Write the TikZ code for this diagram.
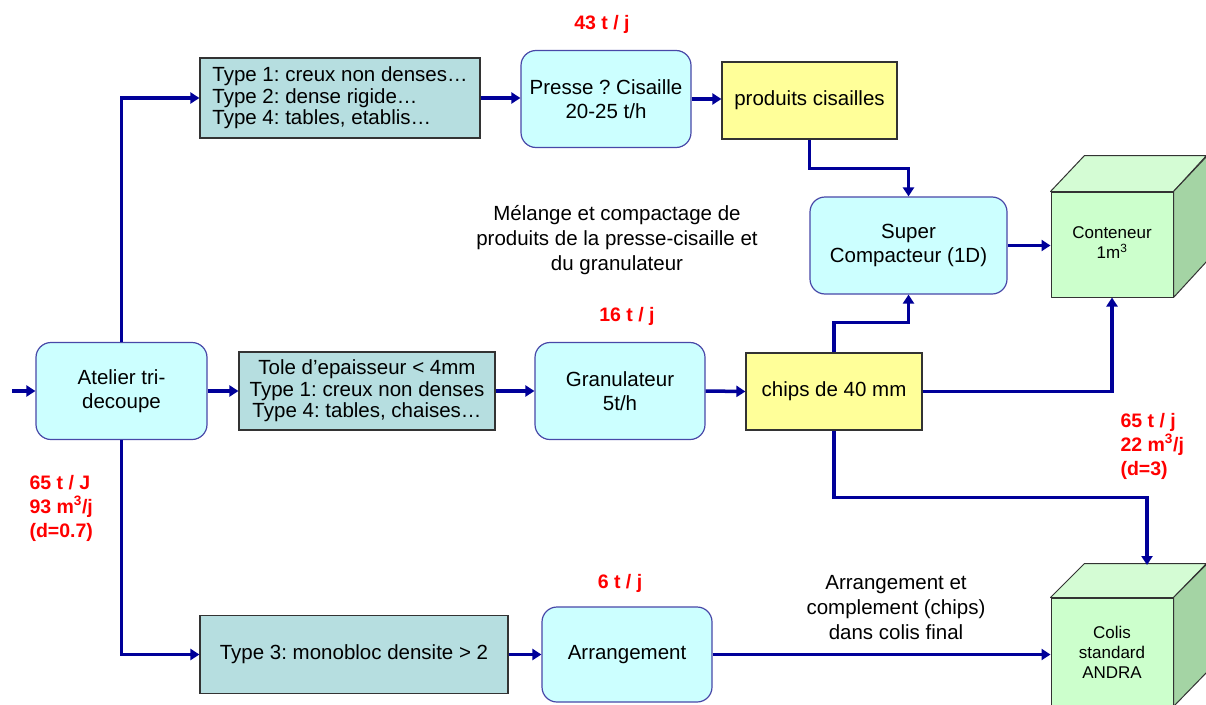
\documentclass[tikz,border=0pt]{standalone}
\usepackage{fontspec}
\setmainfont{Liberation Sans}
\usetikzlibrary{arrows.meta,calc}
\frenchspacing
\definecolor{procfill}{HTML}{CCFFFF}
\definecolor{procborder}{HTML}{4848A8}
\definecolor{tboxfill}{HTML}{B6DEE0}
\definecolor{boxborder}{HTML}{333333}
\definecolor{yfill}{HTML}{FFFF99}
\definecolor{navy}{HTML}{000099}
\definecolor{lblred}{HTML}{FF0000}
\definecolor{cubefront}{HTML}{CCFFCC}
\definecolor{cubetop}{HTML}{D4FCD4}
\definecolor{cubeside}{HTML}{A4D4A4}
\begin{document}
\frenchspacing
\begin{tikzpicture}[x=1pt,y=-1pt,
  proc/.style={draw=procborder, line width=1.2pt, fill=procfill, rounded corners=15pt,
    minimum width=170pt, minimum height=97pt, align=center, inner sep=2pt,
    font=\frenchspacing\fontsize{20.5}{24.5}\selectfont},
  tbox/.style={draw=boxborder, line width=1.2pt, fill=tboxfill, inner sep=2pt,
    font=\frenchspacing\fontsize{20.5}{21.5}\selectfont},
  ybox/.style={draw=boxborder, line width=1.2pt, fill=yfill, inner sep=2pt,
    minimum height=77pt, align=center, font=\frenchspacing\fontsize{20.5}{24}\selectfont},
  cubeface/.style={draw=boxborder, line width=1pt, line join=round},
  cubetext/.style={align=center, font=\fontsize{17}{20}\selectfont},
  flow/.style={draw=navy, line width=3.5pt, -{Triangle[length=9pt,width=11pt]}},
  redlbl/.style={text=lblred, font=\bfseries\fontsize{19.5}{24}\selectfont, align=left},
  note/.style={align=center, font=\frenchspacing\fontsize{20.5}{25}\selectfont}]
\useasboundingbox (0,0) rectangle (1206,704);
\fill[white] (0,0) rectangle (1206,704);

% process boxes
\node[proc, minimum width=171pt] (atelier) at (121.5,391) {Atelier tri-\\decoupe};
\node[proc] (presse) at (606,99) {Presse ? Cisaille\\20-25 t/h};
\node[proc, minimum width=197pt] (super) at (908.5,245.5) {Super\\Compacteur (1D)};
\node[proc] (granul) at (620,391) {Granulateur\\5t/h};
\node[proc, minimum height=95pt] (arrang) at (627,654.5) {Arrangement};

% material boxes
\node[tbox, minimum width=280pt, minimum height=80pt, align=left] (box1) at (340,98)
  {Type 1: creux non denses…\\Type 2: dense rigide…\\Type 4: tables, etablis…};
\node[tbox, minimum width=256pt, minimum height=78pt, align=center] (box2) at (367,391)
  {Tole d'epaisseur < 4mm\\Type 1: creux non denses\\Type 4: tables, chaises…};
\node[tbox, minimum width=308pt, minimum height=78pt] (box3) at (354,654.5)
  {Type 3: monobloc densite > 2};

% yellow boxes
\node[ybox, minimum width=175pt] (produits) at (809.5,100.5) {produits cisailles};
\node[ybox, minimum width=176pt] (chips) at (834,391.5) {chips de 40 mm};

% cube: Conteneur
\node[cubeface, fill=cubefront, minimum width=122pt, minimum height=105pt, inner sep=0pt] (conteneur) at (1112,244.5) {};
\filldraw[cubeface, fill=cubetop] (conteneur.north west) -- ++(34,-36) -- ++(122,0) -- (conteneur.north east) -- cycle;
\filldraw[cubeface, fill=cubeside] (conteneur.north east) -- ++(34,-36) -- ++(0,105) -- (conteneur.south east) -- cycle;
\node[cubetext] (conttxt) at (1112,243) {Conteneur\\1m\textsuperscript{3}};

% cube: Colis
\node[cubeface, fill=cubefront, minimum width=122pt, minimum height=108pt, inner sep=0pt] (colis) at (1112,652) {};
\filldraw[cubeface, fill=cubetop] (colis.north west) -- ++(34,-34) -- ++(122,0) -- (colis.north east) -- cycle;
\filldraw[cubeface, fill=cubeside] (colis.north east) -- ++(34,-34) -- ++(0,108) -- (colis.south east) -- cycle;
\node[cubetext] (colistxt) at (1112,652) {Colis\\standard\\ANDRA};
\coordinate (colistop) at (1147,565);
\coordinate (input) at (12,391);

% connectors
\draw[flow] (input) -- (atelier.west);
\draw[flow] (atelier.north) |- (box1.west);
\draw[flow] (atelier.south) |- (box3.west);
\draw[flow] (atelier.east) -- (box2.west);
\draw[flow] (box1.east) -- (box1.east -| presse.west);
\draw[flow] (presse.east) -- (presse.east -| produits.west);
\draw[flow] (produits.south) -- ++(0,29) -| (super.north);
\draw[flow] (super.east) -- (super.east -| conteneur.west);
\draw[flow] (box2.east) -- (granul.west);
\draw[flow] (granul.east) -- (chips.west);
\draw[flow] (chips.north) -- ++(0,-30) -| (super.south);
\draw[flow] (chips.east) -| (conteneur.south);
\draw[flow] (chips.south) -- ++(0,67) -| (colistop);
\draw[flow] (box3.east) -- (arrang.west);
\draw[flow] (arrang.east) -- (arrang.east -| colis.west);

% labels
\node[redlbl] (l43) at (602,24) {43 t / j};
\node[redlbl] (l16) at (627,316) {16 t / j};
\node[redlbl] (l6) at (620,583) {6 t / j};
\node[redlbl, anchor=west] (lleft) at (26,508) {65 t / J\\93 m\textsuperscript{3}/j\\(d=0.7)};
\node[redlbl, anchor=west] (lright) at (1117,446) {65 t / j\\22 m\textsuperscript{3}/j\\(d=3)};
\node[note] (melange) at (617,240) {Mélange et compactage de\\produits de la presse-cisaille et\\du granulateur};
\node[note] (arrnote) at (896,608) {Arrangement et\\complement (chips)\\dans colis final};
\end{tikzpicture}
\end{document}
